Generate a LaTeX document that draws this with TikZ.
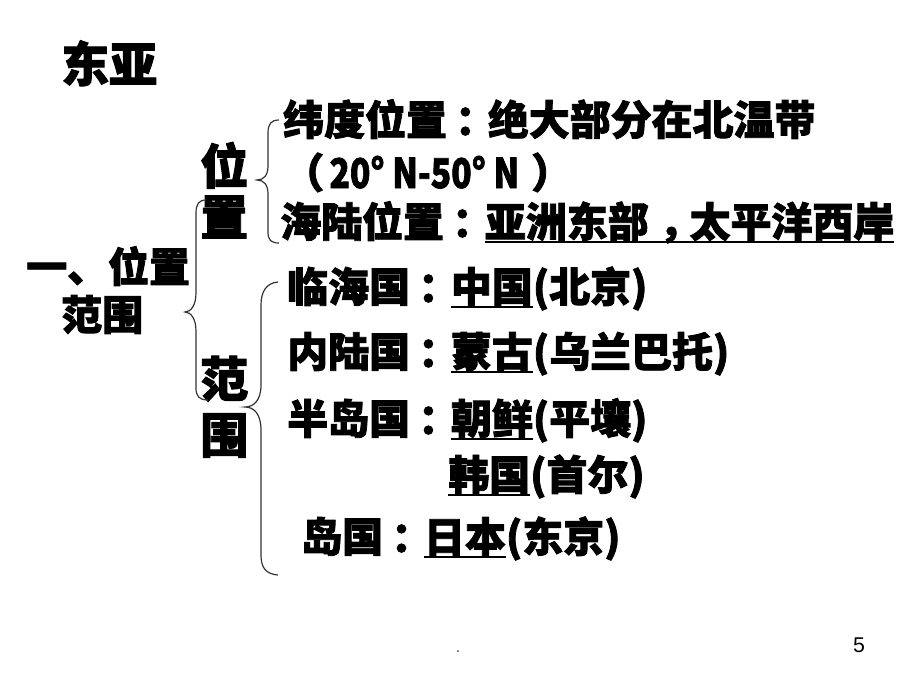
\documentclass[tikz,border=0pt]{standalone}
\usepackage{fontspec}
\newfontfamily\cjk{Noto Sans CJK SC}[BoldFeatures={FakeBold=2}]
\newfontfamily\latin{Liberation Sans}
\newcommand\ulword[1]{\setbox0\hbox{#1}\rlap{\rule[-4.4pt]{\wd0}{1.5pt}}\box0}
\newcommand\cnco{\makebox[1em][l]{\hspace{0.2em}：}}
\newcommand\cncm{\makebox[1em][l]{\hspace{0.25em}，}}

\begin{document}
\begin{tikzpicture}[x=0.75pt, y=-0.75pt,
    txt/.style={anchor=base west, inner sep=0pt,
                font=\cjk\bfseries\fontsize{30.7pt}{36pt}\selectfont},
    big/.style={txt, font=\cjk\bfseries\fontsize{36pt}{40pt}\selectfont},
    bracket/.style={draw=black!80, line width=0.9pt}]
  \useasboundingbox[fill=white] (0,0) rectangle (920,690);

  \node[big] (title) at (61,82) {东亚};

  \node[txt] (topic_a) at (26,282) {一、位置};
  \node[txt] (topic_b) at (61,330) {范围};

  \node[big] (pos_a) at (200,184) {位};
  \node[big] (pos_b) at (200,235) {置};
  \node[big] (range_a) at (200,397) {范};
  \node[big] (range_b) at (200,453) {围};

  \node[txt] (lat) at (283,135) {纬度位置\cnco 绝大部分在北温带};
  \node[txt] (lat_deg) at (283,188) {（\hspace{4pt}\scalebox{0.82}[1]{20° N-50° N}\hspace{9pt}）};
  \node[txt] (sea) at (280,237) {海陆位置\cnco\ulword{亚洲东部\cncm 太平洋西岸}};

  \node[txt] (coast) at (287,302) {临海国\cnco\ulword{中国}(北京)};
  \node[txt] (inland) at (287,367) {内陆国\cnco\ulword{蒙古}(乌兰巴托)};
  \node[txt] (penin) at (287,434) {半岛国\cnco\ulword{朝鲜}(平壤)};
  \node[txt] (korea) at (448,490) {\ulword{韩国}(首尔)};
  \node[txt] (island) at (301,552) {岛国\cnco\ulword{日本}(东京)};

  % braces
  \draw[bracket] (206,200) .. controls (199,200) and (196,204) .. (196,213) -- (196,293)
    .. controls (196,305) and (191,312) .. (185,312) .. controls (191,312) and (196,319) .. (196,331)
    -- (196,388) .. controls (196,396) and (199,400) .. (208,400);
  \draw[bracket] (279,120) .. controls (271,120) and (268,124) .. (268,133) -- (268,166)
    .. controls (268,175) and (264,180) .. (257,180) .. controls (264,180) and (268,185) .. (268,194)
    -- (268,232) .. controls (268,240) and (271,243) .. (279,243);
  \draw[bracket] (278,282) .. controls (266,283) and (261,292) .. (261,305) -- (261,385)
    .. controls (261,400) and (254,407) .. (245,407) .. controls (254,407) and (261,414) .. (261,430)
    -- (261,555) .. controls (261,568) and (266,574) .. (278,575);

  \node[font=\latin\fontsize{12pt}{14pt}\selectfont, text=black!70, inner sep=0pt, anchor=base] (dot) at (458,652) {.};
  \node[font=\latin\fontsize{16pt}{18pt}\selectfont, inner sep=0pt, anchor=base] (page) at (859,652) {5};
\end{tikzpicture}
\end{document}
